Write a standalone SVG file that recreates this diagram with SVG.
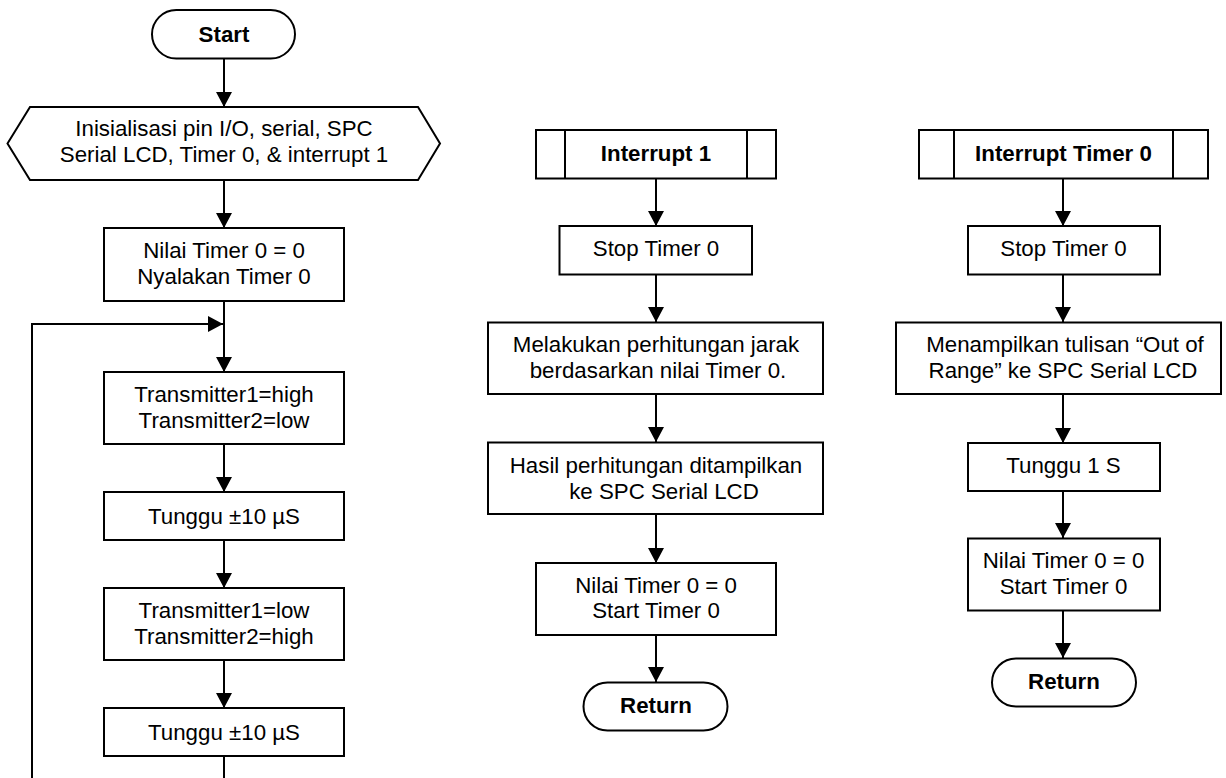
<svg xmlns="http://www.w3.org/2000/svg" width="1226" height="778" viewBox="0 0 1226 778">
<defs>
<marker id="ah" markerWidth="15" markerHeight="16" refX="15" refY="8" orient="auto" markerUnits="userSpaceOnUse">
<path d="M0,0 L15,8 L0,16 Z" fill="#000"/>
</marker>
<style>
.s{fill:#fff;stroke:#000;stroke-width:2}
.t{font-family:"Liberation Sans",Arial,sans-serif;font-size:22.3px;fill:#000;text-anchor:middle}
.b{font-weight:bold}
.c{fill:none;stroke:#000;stroke-width:2}
</style>
</defs>
<rect width="1226" height="778" fill="#fff"/>

<g id="connectors">
<path class="c" d="M224,59 V107" marker-end="url(#ah)"/>
<path class="c" d="M224,180 V228" marker-end="url(#ah)"/>
<path class="c" d="M224,301 V372" marker-end="url(#ah)"/>
<path class="c" d="M32,778 V324 H223" marker-end="url(#ah)"/>
<path class="c" d="M224,444 V492" marker-end="url(#ah)"/>
<path class="c" d="M224,540 V588" marker-end="url(#ah)"/>
<path class="c" d="M224,660 V708" marker-end="url(#ah)"/>
<path class="c" d="M224,756 V778"/>

<path class="c" d="M656,179 V226" marker-end="url(#ah)"/>
<path class="c" d="M656,274 V322" marker-end="url(#ah)"/>
<path class="c" d="M656,394 V442" marker-end="url(#ah)"/>
<path class="c" d="M656,514 V563" marker-end="url(#ah)"/>
<path class="c" d="M656,635 V682" marker-end="url(#ah)"/>

<path class="c" d="M1063,179 V226" marker-end="url(#ah)"/>
<path class="c" d="M1063,274 V322" marker-end="url(#ah)"/>
<path class="c" d="M1063,394 V443" marker-end="url(#ah)"/>
<path class="c" d="M1063,491 V538" marker-end="url(#ah)"/>
<path class="c" d="M1063,611 V658" marker-end="url(#ah)"/>
</g>

<g id="start">
<rect class="s" x="152" y="10" width="143" height="48.5" rx="24.25"/>
<text class="t b" x="224" y="42">Start</text>
</g>
<g id="init">
<polygon class="s" points="7.5,143.5 30,107 418,107 440,143.5 418,180 30,180"/>
<text class="t" x="224" y="136">Inisialisasi pin I/O, serial, SPC</text>
<text class="t" x="224" y="162">Serial LCD, Timer 0, &amp; interrupt 1</text>
</g>
<g id="nilai1">
<rect class="s" x="104" y="228" width="240" height="73"/>
<text class="t" x="224" y="258">Nilai Timer 0 = 0</text>
<text class="t" x="224" y="284">Nyalakan Timer 0</text>
</g>
<g id="tx1">
<rect class="s" x="104" y="372" width="240" height="72"/>
<text class="t" x="224" y="402">Transmitter1=high</text>
<text class="t" x="224" y="428">Transmitter2=low</text>
</g>
<g id="wait1">
<rect class="s" x="104" y="492" width="240" height="48"/>
<text class="t" x="224" y="524">Tunggu ±10 µS</text>
</g>
<g id="tx2">
<rect class="s" x="104" y="588" width="240" height="72"/>
<text class="t" x="224" y="618">Transmitter1=low</text>
<text class="t" x="224" y="644">Transmitter2=high</text>
</g>
<g id="wait2">
<rect class="s" x="104" y="708" width="240" height="48"/>
<text class="t" x="224" y="740">Tunggu ±10 µS</text>
</g>

<g id="int1">
<rect class="s" x="536" y="130" width="240" height="48.5"/>
<line class="c" x1="565" y1="130" x2="565" y2="178.5"/>
<line class="c" x1="747" y1="130" x2="747" y2="178.5"/>
<text class="t b" x="656" y="161">Interrupt 1</text>
</g>
<g id="stop1">
<rect class="s" x="559.5" y="226" width="192.5" height="48.5"/>
<text class="t" x="656" y="256">Stop Timer 0</text>
</g>
<g id="hitung">
<rect class="s" x="488" y="322.5" width="335" height="71.5"/>
<text class="t" x="656" y="352">Melakukan perhitungan jarak</text>
<text class="t" x="658" y="378">berdasarkan nilai Timer 0.</text>
</g>
<g id="hasil">
<rect class="s" x="488" y="442.5" width="335" height="71.5"/>
<text class="t" x="656" y="473">Hasil perhitungan ditampilkan</text>
<text class="t" x="664" y="498.5">ke SPC Serial LCD</text>
</g>
<g id="nilai2">
<rect class="s" x="536" y="563" width="240" height="72"/>
<text class="t" x="656" y="592.5">Nilai Timer 0 = 0</text>
<text class="t" x="656" y="618">Start Timer 0</text>
</g>
<g id="ret1">
<rect class="s" x="583.5" y="682.5" width="144" height="48" rx="24"/>
<text class="t b" x="656" y="712.5">Return</text>
</g>

<g id="intT0">
<rect class="s" x="919" y="130" width="289" height="48.5"/>
<line class="c" x1="954" y1="130" x2="954" y2="178.5"/>
<line class="c" x1="1173" y1="130" x2="1173" y2="178.5"/>
<text class="t b" x="1063.5" y="161">Interrupt Timer 0</text>
</g>
<g id="stop2">
<rect class="s" x="968" y="226" width="192" height="48.5"/>
<text class="t" x="1063.5" y="256">Stop Timer 0</text>
</g>
<g id="tampil">
<rect class="s" x="896" y="322.5" width="325" height="71.5"/>
<text class="t" x="1065" y="352">Menampilkan tulisan “Out of</text>
<text class="t" x="1063" y="378">Range” ke SPC Serial LCD</text>
</g>
<g id="wait3">
<rect class="s" x="968" y="443" width="192" height="48"/>
<text class="t" x="1063.5" y="473">Tunggu 1 S</text>
</g>
<g id="nilai3">
<rect class="s" x="968" y="538.5" width="192" height="72"/>
<text class="t" x="1063.5" y="568">Nilai Timer 0 = 0</text>
<text class="t" x="1063.5" y="594">Start Timer 0</text>
</g>
<g id="ret2">
<rect class="s" x="992" y="658.5" width="144" height="48" rx="24"/>
<text class="t b" x="1064" y="688.5">Return</text>
</g>
</svg>
